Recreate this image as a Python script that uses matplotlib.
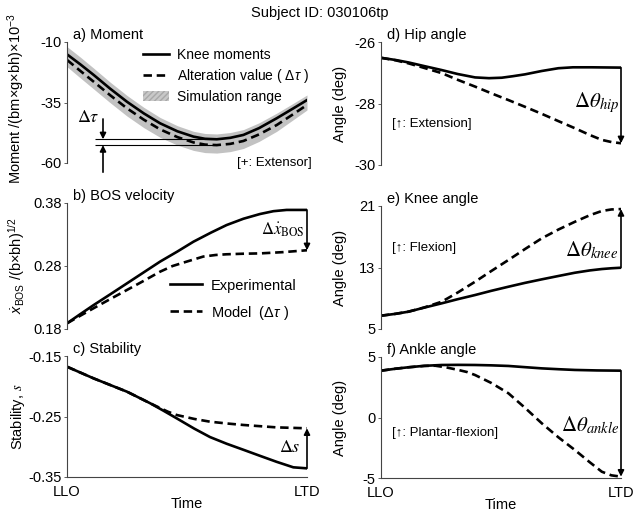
import matplotlib
matplotlib.use("Agg")
import matplotlib.pyplot as plt
from matplotlib.lines import Line2D
from matplotlib.patches import Patch

plt.rcParams['font.family'] = ['Liberation Sans', 'DejaVu Sans']
plt.rcParams['axes.unicode_minus'] = False
plt.rcParams['mathtext.fontset'] = 'custom'
plt.rcParams['mathtext.rm'] = 'Liberation Sans'
plt.rcParams['mathtext.it'] = 'Liberation Sans:italic'
plt.rcParams['mathtext.bf'] = 'Liberation Sans:bold'

# ---------------- data ----------------
title = "Subject ID: 030106tp"
time_ticks = [0, 1]
time_labels = ["LLO", "LTD"]

# a) Moment
mom_t = [0.0, 0.055, 0.111, 0.18, 0.25, 0.32, 0.388, 0.46, 0.527, 0.575,
         0.624, 0.68, 0.735, 0.80, 0.874, 0.94, 1.0]
mom_solid = [-15.1, -19.2, -23.6, -29.3, -34.7, -39.5, -43.6, -46.9, -49.1, -50.0,
             -50.2, -49.6, -48.4, -45.6, -41.5, -37.6, -34.0]
mom_dash = [-17.4, -21.9, -26.4, -32.0, -37.4, -42.1, -46.1, -49.3, -51.5, -52.4,
            -52.6, -52.1, -50.9, -48.2, -44.3, -40.0, -36.0]
mom_band_hi = [-11.9, -16.2, -20.8, -26.6, -32.1, -37.0, -41.2, -44.6, -46.9, -47.8,
               -48.0, -47.4, -46.2, -43.4, -39.4, -35.5, -31.9]
mom_band_lo = [-20.2, -24.8, -29.4, -35.1, -40.6, -45.4, -49.4, -52.6, -54.8, -55.7,
               -55.9, -55.3, -54.0, -51.1, -46.9, -42.3, -38.1]

# b) BOS velocity
bos_t_s = [0.0, 0.055, 0.111, 0.18, 0.25, 0.32, 0.388, 0.46, 0.527, 0.6,
           0.665, 0.735, 0.804, 0.86, 0.915, 1.0]
bos_solid = [0.189, 0.2035, 0.218, 0.235, 0.2525, 0.270, 0.287, 0.303, 0.3186, 0.333,
             0.345, 0.355, 0.3625, 0.367, 0.369, 0.369]
bos_t_d = [0.0, 0.055, 0.111, 0.18, 0.25, 0.32, 0.388, 0.44, 0.499, 0.568,
           0.62, 0.665, 0.735, 0.804, 0.9, 1.0]
bos_dash = [0.189, 0.201, 0.213, 0.2275, 0.242, 0.2565, 0.271, 0.280, 0.287, 0.295,
            0.2975, 0.2986, 0.2995, 0.300, 0.302, 0.305]

# c) Stability
stab_t_s = [0.0, 0.111, 0.25, 0.346, 0.40, 0.457, 0.53, 0.596, 0.665, 0.735,
            0.804, 0.874, 0.943, 1.0]
stab_solid = [-0.1677, -0.187, -0.209, -0.228, -0.240, -0.253, -0.270, -0.284, -0.295, -0.305,
              -0.315, -0.325, -0.334, -0.3357]
stab_t_d = [0.0, 0.111, 0.25, 0.346, 0.388, 0.42, 0.457, 0.53, 0.596, 0.665,
            0.735, 0.804, 0.874, 1.0]
stab_dash = [-0.1677, -0.187, -0.209, -0.228, -0.236, -0.242, -0.2475, -0.254, -0.2586, -0.2615,
             -0.264, -0.266, -0.268, -0.2695]

# d) Hip angle
hip_t_s = [0.0, 0.06, 0.114, 0.18, 0.253, 0.32, 0.392, 0.45, 0.503, 0.55,
           0.600, 0.67, 0.739, 0.80, 0.878, 1.0]
hip_solid = [-26.5, -26.57, -26.65, -26.77, -26.9, -27.03, -27.14, -27.165, -27.15, -27.1,
             -27.04, -26.93, -26.84, -26.81, -26.81, -26.82]
hip_t_d = [0.0, 0.06, 0.114, 0.18, 0.253, 0.32, 0.392, 0.46, 0.531, 0.60,
           0.670, 0.74, 0.808, 0.87, 0.920, 0.96, 1.0]
hip_dash = [-26.5, -26.58, -26.68, -26.83, -27.0, -27.22, -27.44, -27.66, -27.88, -28.1,
            -28.33, -28.57, -28.8, -29.02, -29.18, -29.25, -29.29]

# e) Knee angle
knee_t = [0.0, 0.06, 0.114, 0.18, 0.253, 0.32, 0.392, 0.46, 0.531, 0.60,
          0.670, 0.74, 0.808, 0.87, 0.920, 0.96, 1.0]
knee_solid = [6.73, 6.97, 7.25, 7.78, 8.34, 8.88, 9.42, 9.97, 10.5, 11.0,
              11.46, 11.9, 12.32, 12.62, 12.8, 12.9, 12.97]
knee_dash = [6.73, 6.97, 7.25, 7.8, 8.55, 9.75, 11.15, 12.55, 13.98, 15.4,
             16.8, 17.95, 18.95, 19.8, 20.35, 20.55, 20.6]

# f) Ankle angle
ank_t_s = [0.0, 0.06, 0.114, 0.18, 0.253, 0.32, 0.392, 0.46, 0.531, 0.60,
           0.670, 0.74, 0.808, 0.9, 1.0]
ank_solid = [3.87, 4.03, 4.15, 4.27, 4.34, 4.35, 4.34, 4.31, 4.26, 4.16,
             4.06, 3.99, 3.93, 3.89, 3.87]
ank_t_d = [0.0, 0.06, 0.114, 0.18, 0.226, 0.27, 0.322, 0.36, 0.392, 0.46,
           0.531, 0.60, 0.670, 0.74, 0.808, 0.87, 0.920, 0.96, 1.0]
ank_dash = [3.87, 4.03, 4.15, 4.26, 4.28, 4.15, 3.93, 3.75, 3.51, 2.85,
            2.0, 0.8, -0.48, -1.65, -2.69, -3.7, -4.48, -4.78, -4.89]

# ---------------- figure ----------------
W, H = 639, 514
fig = plt.figure(figsize=(W / 100, H / 100), dpi=100)

def mkax(l, r, t, b):
    return fig.add_axes([l / W, 1 - b / H, (r - l) / W, (b - t) / H])

axa = mkax(67, 307, 42, 163)
axb = mkax(67, 307, 203, 329)
axc = mkax(67, 307, 356, 477)
axd = mkax(381, 621, 42.5, 165)
axe = mkax(381, 621, 206, 329)
axf = mkax(381, 621, 357, 478)

LW = 1.9
DASH = (0, (3.2, 1.8))
SPC = '#444444'
FS = 10.5

def style(ax, yt, ylab, ylim, bottom=False):
    for s in ['top', 'right']:
        ax.spines[s].set_visible(False)
    ax.spines['left'].set_color(SPC)
    ax.spines['left'].set_linewidth(0.8)
    if bottom:
        ax.spines['bottom'].set_color(SPC)
        ax.spines['bottom'].set_linewidth(0.8)
        ax.set_xticks(time_ticks)
        ax.set_xticklabels(time_labels, fontsize=FS)
        ax.tick_params(axis='x', length=0, pad=6)
        ax.set_xlabel("Time", fontsize=FS, labelpad=-2)
    else:
        ax.spines['bottom'].set_visible(False)
        ax.set_xticks([])
    ax.set_xlim(0, 1)
    ax.set_ylim(*ylim)
    ax.set_yticks(yt)
    ax.set_yticklabels(ylab, fontsize=FS)
    ax.tick_params(axis='y', length=2, width=0.6, color=SPC, pad=2)

def ptitle(ax, s):
    ax.text(0.025, 1.0, s, transform=ax.transAxes, fontsize=FS, ha='left', va='bottom')

def darrow(ax, x, y0, y1):
    ax.annotate('', xy=(x, y1), xytext=(x, y0), annotation_clip=False,
                arrowprops=dict(arrowstyle='-|>', color='black', lw=1.2,
                                mutation_scale=9, shrinkA=0, shrinkB=0))

# a) Moment
ax = axa
ax.fill_between(mom_t, mom_band_lo, mom_band_hi, color='#c2c2c2', lw=0)
ax.plot(mom_t, mom_solid, color='black', lw=LW)
ax.plot(mom_t, mom_dash, color='black', lw=LW, ls=DASH)
smin = min(mom_solid)
dmin = min(mom_dash)
ax.hlines(smin, 0.117, mom_t[mom_solid.index(smin)] - 0.02, color='black', lw=0.8)
ax.hlines(dmin, 0.117, mom_t[mom_dash.index(dmin)], color='black', lw=0.8)
darrow(ax, 0.15, -41.8, smin)
darrow(ax, 0.15, -63.8, dmin)
ax.text(0.088, -41.3, r'$\Delta\tau$', fontsize=13, math_fontfamily='stix', ha='center', va='center')
style(ax, [-10, -35, -60], ['-10', '-35', '-60'], (-60, -10))
ptitle(ax, "a) Moment")
ax.text(1.02, -60, "[+: Extensor]", fontsize=9.5, ha='right', va='center')
h = [Line2D([], [], color='black', lw=LW),
     Line2D([], [], color='black', lw=LW, ls=DASH),
     Patch(facecolor='#c8c8c8', edgecolor='#a8a8a8', hatch='//////', lw=0)]
ax.legend(h, ["Knee moments", r"Alteration value ( $\Delta\tau$ )", "Simulation range"],
          loc='upper left', bbox_to_anchor=(0.315, 0.95), frameon=False, fontsize=10,
          handlelength=1.9, handletextpad=0.55, labelspacing=0.35, borderpad=0,
          borderaxespad=0)
ax.set_ylabel(r"Moment /(bm×g×bh)×10$^{-3}$", fontsize=FS)
ax.yaxis.set_label_coords(-0.165, 0.53)

# b) BOS velocity
ax = axb
l1, = ax.plot(bos_t_s, bos_solid, color='black', lw=LW)
l2, = ax.plot(bos_t_d, bos_dash, color='black', lw=LW, ls=DASH)
darrow(ax, 1.0, bos_solid[-1], bos_dash[-1])
ax.text(0.9, 0.337, r'$\Delta\dot{x}_{\rm BOS}$', fontsize=12, math_fontfamily='stix', ha='center', va='center')
style(ax, [0.18, 0.28, 0.38], ['0.18', '0.28', '0.38'], (0.18, 0.38))
ptitle(ax, "b) BOS velocity")
ax.legend([l1, l2], ["Experimental", r"Model  ($\Delta\tau$ )"], loc='upper left',
          bbox_to_anchor=(0.43, 0.40), frameon=False, fontsize=FS,
          handlelength=2.2, handletextpad=0.6, labelspacing=0.75, borderpad=0,
          borderaxespad=0)
ax.set_ylabel(r"$\dot{x}_{\rm BOS}$ /(b×bh)$^{1/2}$", fontsize=FS)
ax.yaxis.set_label_coords(-0.165, 0.5)

# c) Stability
ax = axc
ax.plot(stab_t_d, stab_dash, color='black', lw=LW, ls=DASH)
ax.plot(stab_t_s, stab_solid, color='black', lw=LW)
darrow(ax, 1.0, stab_solid[-1], stab_dash[-1])
ax.text(0.93, -0.302, r'$\Delta s$', fontsize=13, math_fontfamily='stix', ha='center', va='center')
style(ax, [-0.15, -0.25, -0.35], ['-0.15', '-0.25', '-0.35'], (-0.35, -0.15), bottom=True)
ptitle(ax, "c) Stability")
ax.set_ylabel(r"Stability, $s$", fontsize=FS, math_fontfamily='stix')
ax.yaxis.set_label_coords(-0.165, 0.5)

# d) Hip angle
ax = axd
ax.plot(hip_t_d, hip_dash, color='black', lw=LW, ls=DASH)
ax.plot(hip_t_s, hip_solid, color='black', lw=LW)
darrow(ax, 1.0, hip_solid[-1], hip_dash[-1])
ax.text(0.9, -27.95, r'$\Delta\theta_{hip}$', fontsize=15, math_fontfamily='stix', ha='center', va='center')
ax.text(0.045, -28.65, "[↑: Extension]", fontsize=9.5, ha='left', va='center')
style(ax, [-26, -28, -30], ['-26', '-28', '-30'], (-30, -26))
ptitle(ax, "d) Hip angle")
ax.set_ylabel("Angle (deg)", fontsize=FS)
ax.yaxis.set_label_coords(-0.14, 0.5)

# e) Knee angle
ax = axe
ax.plot(knee_t, knee_dash, color='black', lw=LW, ls=DASH)
ax.plot(knee_t, knee_solid, color='black', lw=LW)
darrow(ax, 1.0, knee_solid[-1], knee_dash[-1])
ax.text(0.88, 15.3, r'$\Delta\theta_{knee}$', fontsize=15, math_fontfamily='stix', ha='center', va='center')
ax.text(0.045, 15.6, "[↑: Flexion]", fontsize=9.5, ha='left', va='center')
style(ax, [5, 13, 21], ['5', '13', '21'], (5, 21))
ptitle(ax, "e) Knee angle")
ax.set_ylabel("Angle (deg)", fontsize=FS)
ax.yaxis.set_label_coords(-0.14, 0.5)

# f) Ankle angle
ax = axf
ax.plot(ank_t_d, ank_dash, color='black', lw=LW, ls=DASH)
ax.plot(ank_t_s, ank_solid, color='black', lw=LW)
darrow(ax, 1.0, ank_solid[-1], ank_dash[-1])
ax.text(0.87, -0.6, r'$\Delta\theta_{ankle}$', fontsize=15, math_fontfamily='stix', ha='center', va='center')
ax.text(0.045, -1.3, "[↑: Plantar-flexion]", fontsize=9.5, ha='left', va='center')
style(ax, [-5, 0, 5], ['-5', '0', '5'], (-5, 5), bottom=True)
ptitle(ax, "f) Ankle angle")
ax.set_ylabel("Angle (deg)", fontsize=FS)
ax.yaxis.set_label_coords(-0.14, 0.5)

fig.text(0.5, 1 - 13 / H, title, fontsize=FS, ha='center', va='center')

fig.savefig("out.png", dpi=100)
